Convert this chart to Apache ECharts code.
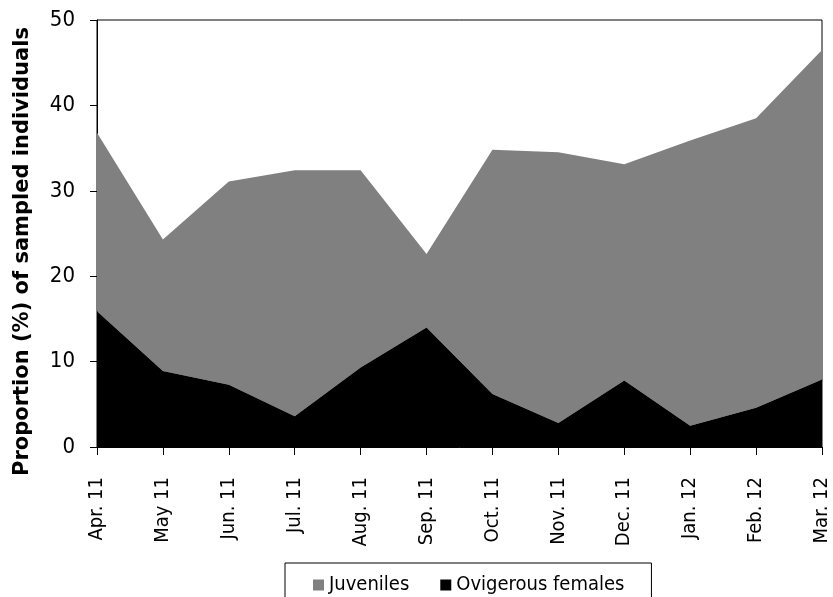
<!DOCTYPE html>
<html>
<head>
<meta charset="utf-8">
<style>
  html, body { margin: 0; padding: 0; background: #fff; }
  #chart { width: 833px; height: 597px; }
</style>
<script src="https://cdn.jsdelivr.net/npm/echarts@6/dist/echarts.min.js"></script>
</head>
<body>
<div id="chart"></div>
<script>
// Monthly samples, April 2011 to March 2012
const months = ['Apr. 11', 'May 11', 'Jun. 11', 'Jul. 11', 'Aug. 11', 'Sep. 11',
                'Oct. 11', 'Nov. 11', 'Dec. 11', 'Jan. 12', 'Feb. 12', 'Mar. 12'];

// Proportion (%) of ovigerous females in each sample
const ovigerousFemales = [15.9, 8.9, 7.3, 3.6, 9.3, 14.0, 6.2, 2.8, 7.8, 2.5, 4.6, 7.9];

// Proportion (%) of juveniles, stacked above the ovigerous females
const juveniles = [20.9, 15.4, 23.8, 28.8, 23.1, 8.6, 28.6, 31.7, 25.3, 33.4, 33.9, 38.6];

const yTicks = { min: 0, max: 50, interval: 10 };

const FONT = '"DejaVu Sans Condensed", "DejaVu Sans", sans-serif';
const TITLE_FONT = '"DejaVu Sans", sans-serif';

const chart = echarts.init(document.getElementById('chart'), null, { renderer: 'canvas' });

chart.setOption({
  animation: false,
  backgroundColor: '#ffffff',
  grid: {
    left: 97, right: 11, top: 20, bottom: 150,
    show: true, borderColor: '#000', borderWidth: 1,
    containLabel: false,
    outerBoundsMode: 'none'
  },
  legend: {
    data: ['Juveniles', 'Ovigerous females'],
    left: 285, top: 563,
    padding: [12, 27, 13, 28],
    itemWidth: 11, itemHeight: 11, itemGap: 31,
    icon: 'rect',
    borderColor: '#000', borderWidth: 1,
    textStyle: { fontFamily: FONT, fontSize: 20, color: '#000' }
  },
  xAxis: {
    type: 'category',
    data: months,
    boundaryGap: false,
    axisLine: { lineStyle: { color: '#000', width: 1 } },
    axisTick: { show: true, alignWithLabel: true, length: 8, lineStyle: { color: '#000' } },
    axisLabel: {
      rotate: 90, margin: 30, interval: 0,
      fontFamily: FONT, fontSize: 20, color: '#000'
    },
    splitLine: { show: false }
  },
  yAxis: {
    type: 'value',
    min: yTicks.min, max: yTicks.max, interval: yTicks.interval,
    name: 'Proportion (%) of sampled individuals',
    nameLocation: 'middle',
    nameGap: 64,
    nameTextStyle: {
      fontFamily: TITLE_FONT, fontSize: 21, fontWeight: 'bold', color: '#000',
      padding: [0, 36, 0, 0]
    },
    axisLine: { show: true, lineStyle: { color: '#000', width: 1 } },
    axisTick: { show: true, length: 7, lineStyle: { color: '#000' } },
    axisLabel: { margin: 22, fontFamily: FONT, fontSize: 22, color: '#000' },
    splitLine: { show: false }
  },
  series: [
    {
      name: 'Ovigerous females',
      type: 'line',
      stack: 'total',
      data: ovigerousFemales,
      symbol: 'none',
      lineStyle: { width: 0 },
      areaStyle: { color: '#000000', opacity: 1 },
      itemStyle: { color: '#000000' },
      z: 3
    },
    {
      name: 'Juveniles',
      type: 'line',
      stack: 'total',
      data: juveniles,
      symbol: 'none',
      lineStyle: { width: 0 },
      areaStyle: { color: '#808080', opacity: 1 },
      itemStyle: { color: '#808080' },
      z: 2
    }
  ]
});
</script>
</body>
</html>
